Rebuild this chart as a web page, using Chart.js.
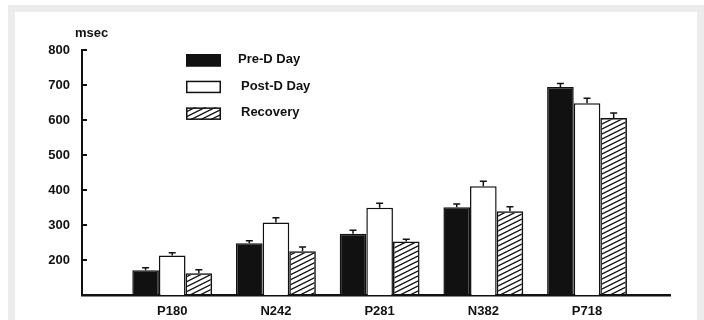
<!DOCTYPE html>
<html>
<head>
<meta charset="utf-8">
<script src="https://cdn.jsdelivr.net/npm/chart.js@4.4.1/dist/chart.umd.min.js"></script>
<style>
  html, body { margin: 0; padding: 0; background: #fff; width: 704px; height: 320px; overflow: hidden; }
  #frame { position: absolute; left: 8px; top: 5px; width: 682px; height: 330px;
           border: 7px solid #ececec; border-bottom: none; background: #fff; }
  #wrap { position: absolute; left: 0; top: 0; width: 704px; height: 320px; }
</style>
</head>
<body>
<div id="frame"></div>
<div id="wrap"><canvas id="c"></canvas></div>
<script>
// Components (categories along the x axis)
const components = ['P180', 'N242', 'P281', 'N382', 'P718'];
const seriesNames = ['Pre-D Day', 'Post-D Day', 'Recovery'];

// Mean latencies in msec
const preD  = [171, 248, 275, 351, 694];
const postD = [213, 307, 349, 411, 648];
const recov = [162, 225, 253, 339, 606];

// Upper error bar lengths in msec
const preDErr  = [7, 7, 10, 9, 10];
const postDErr = [8, 14, 13, 14, 14];
const recovErr = [10, 12, 6, 13, 14];

// Value axis tick values
const yTicks = [100, 200, 300, 400, 500, 600, 700, 800];

const FONT = '"Liberation Sans", Arial, sans-serif';
const INK = '#111';

function hatchPattern() {
  const t = document.createElement('canvas');
  t.width = 10; t.height = 5;
  const g = t.getContext('2d');
  g.strokeStyle = INK;
  g.lineWidth = 1.3;
  g.beginPath();
  for (const dy of [-5, 0, 5]) {
    g.moveTo(-1, 5.5 + dy);
    g.lineTo(11, -0.5 + dy);
  }
  g.stroke();
  return g.createPattern(t, 'repeat');
}
const hatch = hatchPattern();

const toPoints = arr => arr.map((v, i) => ({ x: i + 1, y: v }));

const styles = [
  { backgroundColor: INK, borderColor: INK },
  { backgroundColor: '#fff', borderColor: INK },
  { backgroundColor: hatch, borderColor: INK }
];
const values = [preD, postD, recov];
const errors = [preDErr, postDErr, recovErr];

const datasets = seriesNames.map((name, k) => ({
  label: name,
  data: toPoints(values[k]),
  errors: errors[k],
  backgroundColor: styles[k].backgroundColor,
  borderColor: styles[k].borderColor,
  borderWidth: 1.5,
  borderSkipped: 'bottom',
  barPercentage: 1.0,
  categoryPercentage: 0.77
}));

// One-sided error bars drawn above each bar
const errorBars = {
  id: 'errorBars',
  afterDatasetsDraw(chart) {
    const ctx = chart.ctx, ys = chart.scales.y;
    ctx.save();
    ctx.strokeStyle = INK;
    ctx.lineWidth = 1.5;
    chart.data.datasets.forEach((ds, i) => {
      const meta = chart.getDatasetMeta(i);
      meta.data.forEach((bar, j) => {
        const v = ds.data[j].y, e = ds.errors[j];
        const y0 = ys.getPixelForValue(v);
        const y1 = ys.getPixelForValue(v + e);
        ctx.beginPath();
        ctx.moveTo(bar.x, y0);
        ctx.lineTo(bar.x, y1);
        ctx.moveTo(bar.x - 3.5, y1);
        ctx.lineTo(bar.x + 3.5, y1);
        ctx.stroke();
      });
    });
    ctx.restore();
  }
};

// Tick marks pointing into the plot from the value axis, plus the unit label
const inwardTicks = {
  id: 'inwardTicks',
  afterDraw(chart) {
    const ctx = chart.ctx, ys = chart.scales.y, left = chart.chartArea.left;
    ctx.save();
    ctx.strokeStyle = INK;
    ctx.lineWidth = 2;
    ys.ticks.forEach(t => {
      if (t.value <= ys.min) return;
      const y = ys.getPixelForValue(t.value);
      ctx.beginPath();
      ctx.moveTo(left, y);
      ctx.lineTo(left + 5, y);
      ctx.stroke();
    });
    ctx.fillStyle = INK;
    ctx.font = 'bold 13px ' + FONT;
    ctx.textAlign = 'left';
    ctx.textBaseline = 'middle';
    ctx.fillText('msec', 75, 33);
    ctx.restore();
  }
};

// Key with sample boxes for each series
const boxKey = {
  id: 'boxKey',
  afterDraw(chart) {
    const ctx = chart.ctx;
    const bx = 186, bw = 35, bh = 12.5, top0 = 54, step = 26.7;
    ctx.save();
    chart.data.datasets.forEach((ds, i) => {
      const y = top0 + i * step;
      ctx.fillStyle = ds.backgroundColor;
      ctx.fillRect(bx, y, bw, bh);
      ctx.strokeStyle = ds.borderColor;
      ctx.lineWidth = 1.5;
      ctx.strokeRect(bx + 0.75, y + 0.75, bw - 1.5, bh - 1.5);
      ctx.fillStyle = INK;
      ctx.font = 'bold 13px ' + FONT;
      ctx.textAlign = 'left';
      ctx.textBaseline = 'middle';
      ctx.fillText(ds.label, i === 0 ? 238 : 241, y + bh / 2 - 1);
    });
    ctx.restore();
  }
};

new Chart(document.getElementById('c'), {
  type: 'bar',
  data: { datasets },
  options: {
    responsive: true,
    maintainAspectRatio: false,
    animation: false,
    layout: { padding: { left: 0, top: 50, right: 34, bottom: 0 } },
    plugins: { legend: { display: false }, tooltip: { enabled: false } },
    scales: {
      x: {
        type: 'linear',
        offset: false,
        min: 0.13,
        max: 5.8,
        afterBuildTicks: s => { s.ticks = components.map((c, i) => ({ value: i + 1 })); },
        afterFit: s => { s.height = 25; },
        grid: { display: true, drawOnChartArea: false, drawTicks: false },
        border: { display: true, color: INK, width: 2.5 },
        ticks: {
          padding: 9,
          color: INK,
          font: { family: FONT, size: 13, weight: 'bold' },
          callback: v => components[Math.round(v) - 1] || ''
        }
      },
      y: {
        min: yTicks[0],
        max: yTicks[yTicks.length - 1],
        afterBuildTicks: s => { s.ticks = yTicks.map(v => ({ value: v })); },
        afterFit: s => { s.width = 82; },
        grid: { display: true, drawOnChartArea: false, drawTicks: false },
        border: { display: true, color: INK, width: 2 },
        ticks: {
          padding: 12,
          color: INK,
          font: { family: FONT, size: 13, weight: 'bold' },
          callback: v => (v === yTicks[0] ? '' : v)
        }
      }
    }
  },
  plugins: [errorBars, inwardTicks, boxKey]
});
</script>
</body>
</html>
